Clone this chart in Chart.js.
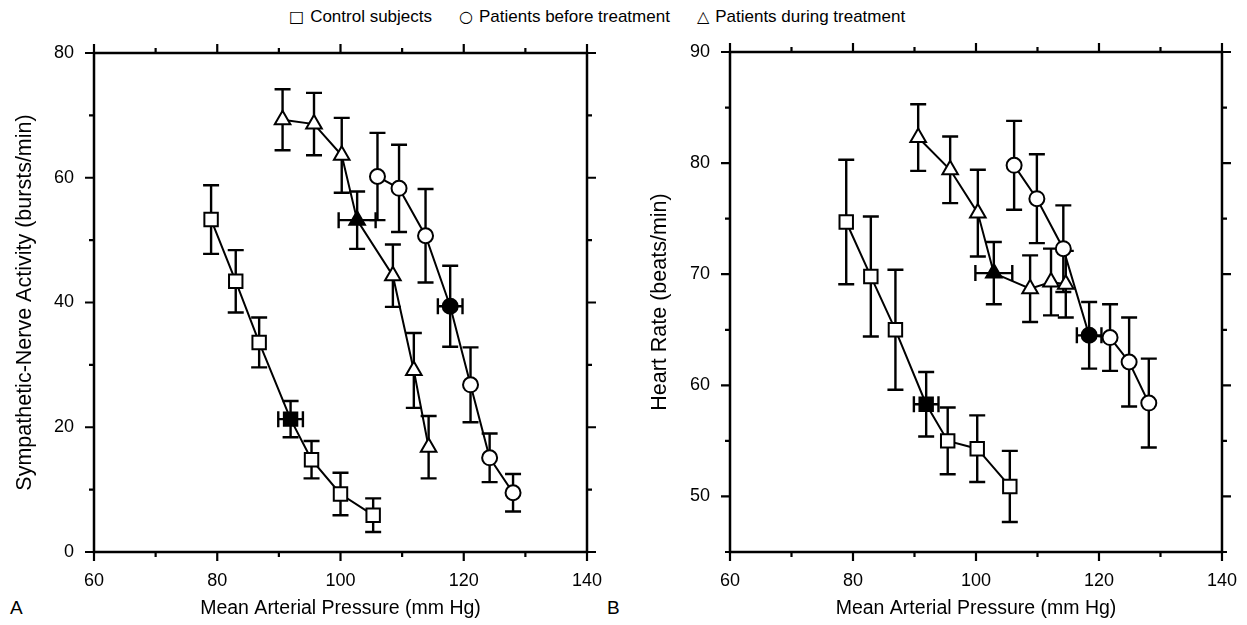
<!DOCTYPE html>
<html>
<head>
<meta charset="utf-8">
<title>Sympathetic-nerve activity and heart rate vs mean arterial pressure</title>
<script src="https://cdn.jsdelivr.net/npm/chart.js@4.4.1/dist/chart.umd.min.js"></script>
<style>
  body { margin: 0; background: #fff; width: 1247px; height: 625px; position: relative; overflow: hidden;
         font-family: "Liberation Sans", Arial, sans-serif; color: #000; }
  #legend { position: absolute; top: 6px; left: 289px; display: flex; gap: 27px;
            font-size: 17px; line-height: 22px; white-space: nowrap; }
  .sym { font-family: "DejaVu Sans", sans-serif; font-size: 16px; margin-right: 6px; }
  .panel { position: absolute; top: 596px; font-size: 19px; line-height: 24px; }
  canvas { position: absolute; top: 0; }
</style>
</head>
<body>
<div id="legend">
  <span><span class="sym">&#9633;</span>Control subjects</span>
  <span><span class="sym">&#9675;</span>Patients before treatment</span>
  <span><span class="sym">&#9651;</span>Patients during treatment</span>
</div>
<div class="panel" style="left:10px">A</div>
<div class="panel" style="left:607px">B</div>
<canvas id="chartA" width="620" height="625" style="left:0"></canvas>
<canvas id="chartB" width="627" height="625" style="left:620px"></canvas>
<script>
// mean arterial pressure (mm Hg), read per panel
var mapControlA = [79.0, 83.0, 86.8, 91.9, 95.3, 100.0, 105.3];
var mapBeforeA  = [106.0, 109.5, 113.8, 117.8, 121.1, 124.2, 128.0];
var mapDuringA  = [90.6, 95.7, 100.2, 102.7, 108.5, 111.9, 114.3];
var mapControlB = [78.9, 82.9, 86.9, 91.9, 95.4, 100.2, 105.5];
var mapBeforeB  = [106.2, 109.9, 114.2, 118.4, 121.8, 124.9, 128.1];
var mapDuringB  = [90.6, 95.8, 100.3, 102.9, 108.8, 112.2, 114.6];

// horizontal SE, only the baseline (filled) point has one
var mapErrControl = [0, 0, 0, 2.0, 0, 0, 0];
var mapErrBefore  = [0, 0, 0, 2.0, 0, 0, 0];
var mapErrDuring  = [0, 0, 0, 3.0, 0, 0, 0];

// panel A: sympathetic-nerve activity (bursts/min)
var snaControl = [53.3, 43.4, 33.6, 21.3, 14.8, 9.3, 5.9];
var snaControlErr = [5.5, 5.0, 4.0, 2.9, 3.0, 3.4, 2.7];
var snaBefore = [60.2, 58.3, 50.7, 39.4, 26.8, 15.1, 9.5];
var snaBeforeErr = [7.0, 7.0, 7.5, 6.5, 6.0, 3.9, 3.0];
var snaDuring = [69.3, 68.6, 63.6, 53.2, 44.3, 29.1, 16.8];
var snaDuringErr = [4.9, 5.0, 6.0, 4.6, 5.0, 6.0, 5.0];

// panel B: heart rate (beats/min)
var hrControl = [74.7, 69.8, 65.0, 58.3, 55.0, 54.3, 50.9];
var hrControlErr = [5.6, 5.4, 5.4, 2.9, 3.0, 3.0, 3.2];
var hrBefore = [79.8, 76.8, 72.3, 64.5, 64.3, 62.1, 58.4];
var hrBeforeErr = [4.0, 4.0, 3.9, 3.0, 3.0, 4.0, 4.0];
var hrDuring = [82.3, 79.4, 75.5, 70.1, 68.7, 69.3, 69.1];
var hrDuringErr = [3.0, 3.0, 3.9, 2.8, 3.0, 3.0, 3.0];

var xTicks = [60, 80, 100, 120, 140];
var xMinor = [70, 90, 110, 130];
var snaTicks = [0, 20, 40, 60, 80];
var snaMinor = [10, 30, 50, 70];
var hrTicks = [50, 60, 70, 80, 90];
var hrMinor = [45, 55, 65, 75, 85];

var filledIndex = 3;

Chart.defaults.font.family = '"Liberation Sans", Arial, sans-serif';
Chart.defaults.color = '#000';

function makeSet(label, xs, ys, yErr, xErr, shape, radius) {
    return {
        label: label,
        data: xs.map(function (x, i) { return { x: x, y: ys[i] }; }),
        yErr: yErr,
        xErr: xErr,
        showLine: true,
        tension: 0,
        borderColor: '#000',
        borderWidth: 2,
        pointStyle: shape,
        pointRadius: radius,
        pointHoverRadius: radius,
        pointBorderColor: '#000',
        pointBorderWidth: 2,
        pointBackgroundColor: xs.map(function (x, i) { return i == filledIndex ? '#000' : '#fff'; })
    };
}

var errorBars = {
    id: 'errorBars',
    beforeDatasetsDraw: function (chart) {
        var ctx = chart.ctx, sx = chart.scales.x, sy = chart.scales.y;
        var cap = 8;
        ctx.save();
        ctx.strokeStyle = '#000';
        ctx.lineWidth = 2.4;
        chart.data.datasets.forEach(function (ds) {
            ds.data.forEach(function (p, i) {
                var px = sx.getPixelForValue(p.x), py = sy.getPixelForValue(p.y);
                var e = ds.yErr[i];
                ctx.beginPath();
                if (e) {
                    var t = sy.getPixelForValue(p.y + e), b = sy.getPixelForValue(p.y - e);
                    ctx.moveTo(px, t); ctx.lineTo(px, b);
                    ctx.moveTo(px - cap, t); ctx.lineTo(px + cap, t);
                    ctx.moveTo(px - cap, b); ctx.lineTo(px + cap, b);
                }
                e = ds.xErr[i];
                if (e) {
                    var l = sx.getPixelForValue(p.x - e), r = sx.getPixelForValue(p.x + e);
                    ctx.moveTo(l, py); ctx.lineTo(r, py);
                    ctx.moveTo(l, py - cap); ctx.lineTo(l, py + cap);
                    ctx.moveTo(r, py - cap); ctx.lineTo(r, py + cap);
                }
                ctx.stroke();
            });
        });
        ctx.restore();
    }
};

// box round the plot with outward ticks on all four sides
var frame = {
    id: 'frame',
    afterDraw: function (chart, args, opts) {
        var ctx = chart.ctx, a = chart.chartArea, sx = chart.scales.x, sy = chart.scales.y;
        ctx.save();
        ctx.strokeStyle = '#000';
        ctx.lineWidth = 2.5;
        ctx.lineCap = 'square';
        ctx.strokeRect(a.left, a.top, a.right - a.left, a.bottom - a.top);
        ctx.lineCap = 'butt';
        ctx.lineWidth = 2.2;
        ctx.beginPath();
        function xt(vals, len) {
            vals.forEach(function (v) {
                var x = sx.getPixelForValue(v);
                ctx.moveTo(x, a.bottom); ctx.lineTo(x, a.bottom + len);
                ctx.moveTo(x, a.top); ctx.lineTo(x, a.top - len);
            });
        }
        function yt(vals, len) {
            vals.forEach(function (v) {
                var y = sy.getPixelForValue(v);
                ctx.moveTo(a.left, y); ctx.lineTo(a.left - len, y);
                ctx.moveTo(a.right, y); ctx.lineTo(a.right + len, y);
            });
        }
        xt(xTicks, 9); xt(xMinor, 5);
        yt(opts.yMajor, 9); yt(opts.yMinor, 5);
        ctx.stroke();
        ctx.restore();
    }
};

function makeChart(id, datasets, g) {
    return new Chart(document.getElementById(id), {
        type: 'scatter',
        data: { datasets: datasets },
        plugins: [errorBars, frame],
        options: {
            responsive: false,
            animation: false,
            events: [],
            layout: { padding: { left: 0, right: g.padRight, top: g.top, bottom: 0 } },
            plugins: {
                legend: { display: false },
                tooltip: { enabled: false },
                frame: { yMajor: g.yTicks, yMinor: g.yMinor }
            },
            scales: {
                x: {
                    type: 'linear', min: 60, max: 140,
                    afterBuildTicks: function (s) { s.ticks = xTicks.map(function (v) { return { value: v }; }); },
                    afterFit: function (s) { s.height = 73; },
                    grid: { display: false },
                    border: { display: false },
                    ticks: { padding: 10, font: { size: 18 }, maxRotation: 0 },
                    title: { display: true, text: 'Mean Arterial Pressure (mm Hg)', font: { size: 19.5 },
                             padding: { top: 0, bottom: 5 } }
                },
                y: {
                    type: 'linear', min: g.yMin, max: g.yMax,
                    afterBuildTicks: function (s) { s.ticks = g.yTicks.map(function (v) { return { value: v }; }); },
                    afterFit: function (s) { s.width = g.axisWidth; },
                    grid: { display: false },
                    border: { display: false },
                    ticks: { padding: 12, font: { size: 18 } },
                    title: { display: true, text: g.yTitle, font: { size: 21.5 },
                             padding: { top: g.titlePad, bottom: 0 } }
                }
            }
        }
    });
}

makeChart('chartA', [
    makeSet('Control subjects', mapControlA, snaControl, snaControlErr, mapErrControl, 'rect', 9.5),
    makeSet('Patients before treatment', mapBeforeA, snaBefore, snaBeforeErr, mapErrBefore, 'circle', 7.5),
    makeSet('Patients during treatment', mapDuringA, snaDuring, snaDuringErr, mapErrDuring, 'triangle', 9)
], { yMin: 0, yMax: 80, yTicks: snaTicks, yMinor: snaMinor, yTitle: 'Sympathetic-Nerve Activity (bursts/min)',
     axisWidth: 94, padRight: 33, top: 53, titlePad: 12 });

makeChart('chartB', [
    makeSet('Control subjects', mapControlB, hrControl, hrControlErr, mapErrControl, 'rect', 9.5),
    makeSet('Patients before treatment', mapBeforeB, hrBefore, hrBeforeErr, mapErrBefore, 'circle', 7.5),
    makeSet('Patients during treatment', mapDuringB, hrDuring, hrDuringErr, mapErrDuring, 'triangle', 9)
], { yMin: 45, yMax: 90, yTicks: hrTicks, yMinor: hrMinor, yTitle: 'Heart Rate (beats/min)',
     axisWidth: 110, padRight: 25, top: 52, titlePad: 27 });
</script>
</body>
</html>
